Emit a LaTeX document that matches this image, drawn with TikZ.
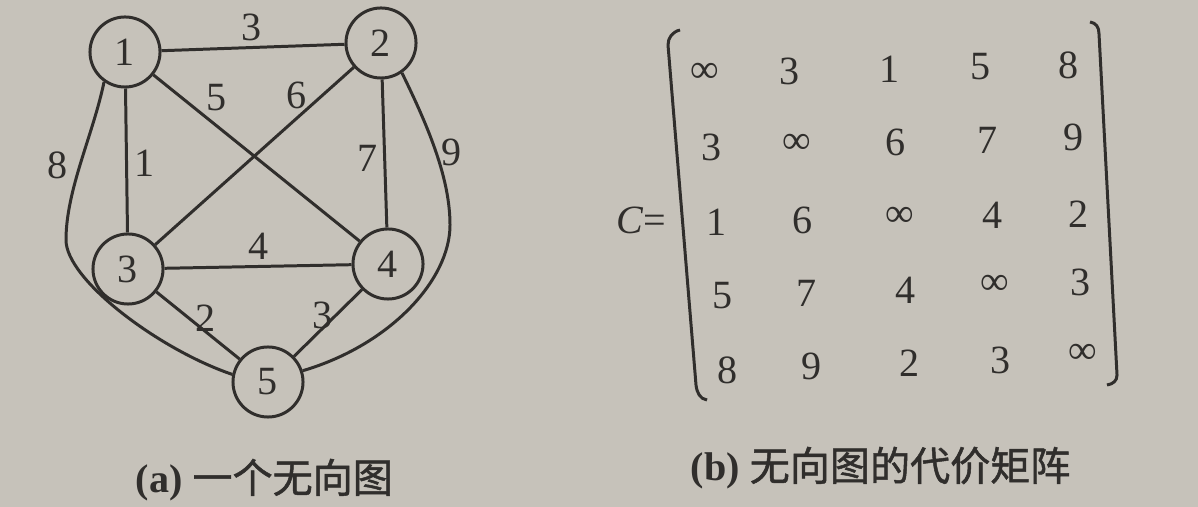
\documentclass[tikz,border=0pt]{standalone}
\usepackage{fontspec}
\setmainfont{Liberation Serif}
\newfontfamily\cjk{Noto Sans CJK SC}[FakeBold=1.2]
\usetikzlibrary{positioning}
\definecolor{paper}{RGB}{198,194,186}
\definecolor{ink}{RGB}{48,46,44}

\begin{document}
\begin{tikzpicture}[x=0.01cm,y=-0.01cm,
  vertex/.style={circle,draw=ink,line width=0.85pt,minimum size=0.7cm,inner sep=0pt,text=ink,font=\fontsize{11.4}{13}\selectfont},
  weight/.style={text=ink,inner sep=0pt,font=\fontsize{11.4}{13}\selectfont},
  entry/.style={text=ink,inner sep=0pt,font=\fontsize{11.4}{13}\selectfont},
  link/.style={draw=ink,line width=0.85pt}]
\fill[paper] (0,0) rectangle (1198,507);
\useasboundingbox (0,0) rectangle (1198,507);

% (a) the graph
\node[vertex] (n1) at (125,52) {1};
\node[vertex] (n2) at (381,43) {2};
\node[vertex] (n3) at (128,269) {3};
\node[vertex] (n4) at (388,264) {4};
\node[vertex] (n5) at (268,382) {5};

\draw[link] (n1) -- (n2);
\draw[link] (n1) -- (n3);
\draw[link] (n1) -- (n4);
\draw[link] (n2) -- (n3);
\draw[link] (n2) -- (n4);
\draw[link] (n3) -- (n4);
\draw[link] (n3) -- (n5);
\draw[link] (n4) -- (n5);
\coordinate (c15) at (66,240);
\coordinate (c25) at (450,225);
\draw[link] (n1.235) .. controls (93,135) and (66,190) .. (c15) .. controls (66,280) and (160,350) .. (n5.168);
\draw[link] (n2.305) .. controls (430,130) and (450,180) .. (c25) .. controls (450,280) and (390,345) .. (n5.18);

\node[weight] (w12) at (252,27) {3};
\node[weight] (w14) at (217,98) {5};
\node[weight] (w23) at (297,95) {6};
\node[weight] (w13) at (145,163) {1};
\node[weight] (w24) at (368,158) {7};
\node[weight] (w15) at (58,165) {8};
\node[weight] (w25) at (452,152) {9};
\node[weight] (w34) at (259,246) {4};
\node[weight] (w35) at (206,318) {2};
\node[weight] (w45) at (323,315) {3};

% (b) the cost matrix
\node[entry] (cname) at (641,220) {\textit{C}=};
\draw[ink,line width=0.85pt] (680,30) .. controls (672,32) and (668,38) .. (668,45) -- (696,385) .. controls (697,393) and (700,399) .. (707,400);
\draw[ink,line width=0.85pt] (1090,22) .. controls (1096,23) and (1099,27) .. (1099,34) -- (1117,375) .. controls (1117,381) and (1113,384) .. (1107,385);

\node[entry] (m11) at (705,73) {∞};
\node[entry] (m12) at (790,71) {3};
\node[entry] (m13) at (890,69) {1};
\node[entry] (m14) at (980,67) {5};
\node[entry] (m15) at (1068,65) {8};
\node[entry] (m21) at (712,147) {3};
\node[entry] (m22) at (797,144) {∞};
\node[entry] (m23) at (895,142) {6};
\node[entry] (m24) at (987,140) {7};
\node[entry] (m25) at (1073,137) {9};
\node[entry] (m31) at (717,222) {1};
\node[entry] (m32) at (803,220) {6};
\node[entry] (m33) at (900,217) {∞};
\node[entry] (m34) at (992,215) {4};
\node[entry] (m35) at (1078,214) {2};
\node[entry] (m41) at (723,296) {5};
\node[entry] (m42) at (807,293) {7};
\node[entry] (m43) at (905,290) {4};
\node[entry] (m44) at (995,285) {∞};
\node[entry] (m45) at (1080,282) {3};
\node[entry] (m51) at (728,370) {8};
\node[entry] (m52) at (812,366) {9};
\node[entry] (m53) at (910,363) {2};
\node[entry] (m54) at (1000,360) {3};
\node[entry] (m55) at (1083,354) {∞};

% captions
\node[entry,anchor=west] (capa) at (135,480) {\textbf{(a)} {\cjk 一个无向图}};
\node[entry,anchor=west] (capb) at (690,468) {\textbf{(b)} {\cjk 无向图的代价矩阵}};
\end{tikzpicture}
\end{document}
